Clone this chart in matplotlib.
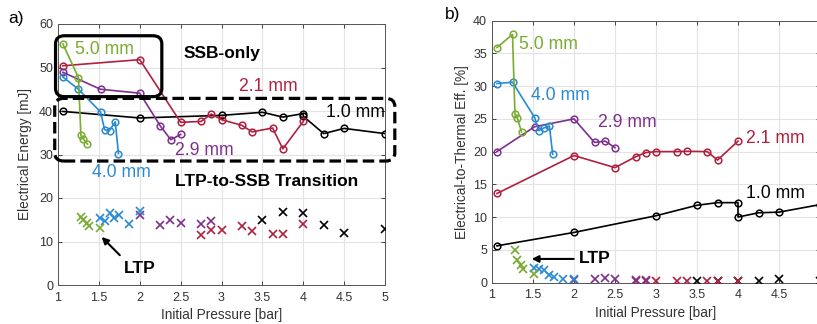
import matplotlib
matplotlib.use("Agg")
import matplotlib.pyplot as plt
from matplotlib.patches import FancyBboxPatch

plt.rcParams['font.family'] = ['Liberation Sans', 'DejaVu Sans']

# ---------------- data ----------------
# series colours
c_green = '#77AC30'
c_blue = '#2A8AD0'
c_purple = '#7E2F8E'
c_red = '#B0203F'
c_black = '#000000'

# SSB / transition lines: pressures [bar]
p_50 = [1.06, 1.25, 1.28, 1.31, 1.36]
p_40 = [1.06, 1.25, 1.52, 1.57, 1.63, 1.70, 1.74]
p_29 = [1.06, 1.52, 2.0, 2.25, 2.38, 2.5]
p_21 = [1.06, 2.0, 2.5, 2.75, 2.875, 3.0, 3.25, 3.375, 3.625, 3.75, 4.0]
p_10 = [1.06, 2.0, 3.0, 3.5, 3.75, 4.0, 4.0, 4.25, 4.5, 5.0]

# electrical energy [mJ]
e_50 = [55.4, 47.7, 34.4, 33.6, 32.4]
e_40 = [47.8, 45.0, 39.8, 35.7, 35.5, 37.5, 30.2]
e_29 = [48.9, 45.0, 44.1, 36.6, 33.4, 34.6]
e_21 = [50.4, 51.8, 37.4, 37.6, 39.3, 38.0, 36.7, 35.2, 36.1, 31.3, 37.6]
e_10 = [39.9, 38.4, 39.0, 39.7, 38.6, 39.4, 38.8, 34.8, 36.0, 34.8]

# efficiency [%]
f_50 = [35.9, 37.9, 25.7, 25.1, 23.0]
f_40 = [30.4, 30.6, 25.2, 23.2, 23.6, 23.9, 19.6]
f_29 = [20.0, 23.8, 25.0, 21.4, 21.6, 20.6]
f_21 = [13.6, 19.4, 17.55, 19.2, 19.85, 20.0, 20.0, 20.05, 20.0, 18.7, 21.6]
f_10 = [5.6, 7.65, 10.2, 11.8, 12.2, 12.2, 10.0, 10.65, 10.75, 11.9]

# LTP points
lp_50 = [1.28, 1.31, 1.35, 1.38, 1.51]
lp_40 = [1.51, 1.57, 1.63, 1.69, 1.75, 1.87, 2.0]
lp_29 = [2.0, 2.25, 2.375, 2.5, 2.75, 2.875]
lp_21 = [2.75, 2.875, 3.0, 3.25, 3.375, 3.625, 3.75, 4.0]
lp_10 = [3.5, 3.75, 4.0, 4.25, 4.5, 5.0]

le_50 = [15.6, 14.9, 14.3, 13.5, 13.1]
le_40 = [15.3, 14.7, 16.6, 15.3, 16.2, 14.1, 17.0]
le_29 = [16.0, 13.7, 14.9, 14.3, 14.0, 14.7]
le_21 = [11.45, 12.6, 12.6, 13.5, 12.4, 11.8, 11.7, 14.0]
le_10 = [14.9, 16.8, 16.5, 13.7, 12.0, 12.8]

lf_50 = [4.95, 3.4, 2.75, 2.0, 1.3]
lf_40 = [2.2, 2.0, 1.9, 1.2, 0.87, 0.46, 0.46]
lf_29 = [0.4, 0.6, 0.75, 0.6, 0.35, 0.35]
lf_21 = [0.2, 0.2, 0.2, 0.2, 0.2, 0.2, 0.2, 0.2]
lf_10 = [0.25, 0.2, 0.2, 0.25, 0.55, 0.25]

x_ticks = [1, 1.5, 2, 2.5, 3, 3.5, 4, 4.5, 5]
x_ticklabels = ['1', '1.5', '2', '2.5', '3', '3.5', '4', '4.5', '5']

# ---------------- figure ----------------
fig = plt.figure(figsize=(8.17, 3.24), dpi=100)
ax1 = fig.add_axes([58/817, 1-285/324, (385-58)/817, (285-24)/324])
ax2 = fig.add_axes([492/817, 1-282.5/324, (820-492)/817, (282.5-20.7)/324])

axis_col = '#404040'
line_series = [
    (p_50, e_50, f_50, c_green),
    (p_40, e_40, f_40, c_blue),
    (p_29, e_29, f_29, c_purple),
    (p_21, e_21, f_21, c_red),
    (p_10, e_10, f_10, c_black),
]
ltp_series = [
    (lp_10, le_10, lf_10, c_black),
    (lp_21, le_21, lf_21, c_red),
    (lp_29, le_29, lf_29, c_purple),
    (lp_40, le_40, lf_40, c_blue),
    (lp_50, le_50, lf_50, c_green),
]

for p, e, f, c in line_series[::-1]:
    ax1.plot(p, e, '-o', color=c, lw=1.2, ms=4.8, mfc='none', mew=1.1, zorder=3)
    ax2.plot(p, f, '-o', color=c, lw=1.2, ms=4.8, mfc='none', mew=1.1, zorder=3)
for p, e, f, c in ltp_series:
    ax1.plot(p, e, 'x', color=c, ms=6, mew=1.2, zorder=3)
    ax2.plot(p, f, 'x', color=c, ms=6, mew=1.2, zorder=3)

for ax, ylim, yt in [(ax1, (0, 60), range(0, 61, 10)), (ax2, (0, 40), range(0, 41, 5))]:
    ax.set_xlim(1, 5)
    ax.set_ylim(*ylim)
    ax.set_xticks(x_ticks)
    ax.set_xticklabels(x_ticklabels)
    ax.set_yticks(list(yt))
    ax.grid(True, color='#e3e3e3', lw=0.8, zorder=0)
    ax.set_axisbelow(True)
    ax.tick_params(direction='in', length=3, width=0.7, colors=axis_col,
                   labelsize=9, labelcolor='#333333', top=True, right=True)
    ax.tick_params(axis='x', pad=5)
    for s in ax.spines.values():
        s.set_color('#555555')
        s.set_linewidth(0.7)
    ax.set_xlabel('Initial Pressure [bar]', fontsize=9.8, color='#333333', labelpad=3)

ax1.set_ylabel('Electrical Energy [mJ]', fontsize=9.8, color='#333333', labelpad=5)
ax2.set_ylabel('Electrical-to-Thermal Eff. [%]', fontsize=9.8, color='#333333', labelpad=3)

# ---- left panel annotations ----
tfs = 12.7
ax1.text(1.21, 54.2, '5.0 mm', color=c_green, fontsize=tfs, va='center', ha='left')
ax1.text(3.21, 45.6, '2.1 mm', color=c_red, fontsize=tfs, va='center', ha='left')
ax1.text(4.28, 39.6, '1.0 mm', color=c_black, fontsize=tfs, va='center', ha='left', zorder=5)
ax1.text(2.43, 31.0, '2.9 mm', color=c_purple, fontsize=tfs, va='center', ha='left')
ax1.text(1.42, 25.8, '4.0 mm', color=c_blue, fontsize=tfs, va='center', ha='left')
ax1.text(2.53, 53.3, 'SSB-only', color='black', fontsize=12.5, fontweight='bold', va='center', ha='left')
ax1.text(2.43, 23.7, 'LTP-to-SSB Transition', color='black', fontsize=12.5, fontweight='bold', va='center', ha='left')
ax1.text(1.8, 3.9, 'LTP', color='black', fontsize=12.5, fontweight='bold', va='center', ha='left')
ax1.annotate('', xy=(1.51, 11.5), xytext=(1.78, 6.4),
             arrowprops=dict(arrowstyle='-|>', color='black', lw=1.5, mutation_scale=10))

box1 = FancyBboxPatch((0.97, 43.3), 1.30, 14.0,
                      boxstyle='round,pad=0,rounding_size=0.11',
                      mutation_aspect=17, fill=False, ec='black', lw=2.3,
                      clip_on=False, zorder=4)
ax1.add_patch(box1)
box2 = FancyBboxPatch((0.96, 28.5), 4.16, 14.4,
                      boxstyle='round,pad=0,rounding_size=0.11',
                      mutation_aspect=17, fill=False, ec='black', lw=2.3,
                      ls=(0, (3.6, 1.6)), clip_on=False, zorder=4)
ax1.add_patch(box2)

# ---- right panel annotations ----
ax2.text(1.33, 36.4, '5.0 mm', color=c_green, fontsize=tfs, va='center', ha='left')
ax2.text(1.476, 28.5, '4.0 mm', color=c_blue, fontsize=tfs, va='center', ha='left')
ax2.text(2.29, 24.5, '2.9 mm', color=c_purple, fontsize=tfs, va='center', ha='left')
ax2.text(4.1, 22.0, '2.1 mm', color=c_red, fontsize=tfs, va='center', ha='left')
ax2.text(4.1, 13.6, '1.0 mm', color=c_black, fontsize=tfs, va='center', ha='left')
ax2.text(2.06, 3.6, 'LTP', color='black', fontsize=12.5, fontweight='bold', va='center', ha='left')
ax2.annotate('', xy=(1.45, 3.6), xytext=(2.03, 3.6),
             arrowprops=dict(arrowstyle='-|>', color='black', lw=1.5, mutation_scale=10))

fig.text(8/817, 1-18/324, 'a)', fontsize=12.5, va='center', ha='left')
fig.text(445/817, 1-15/324, 'b)', fontsize=12.5, va='center', ha='left')

fig.savefig('out.png', dpi=100)
